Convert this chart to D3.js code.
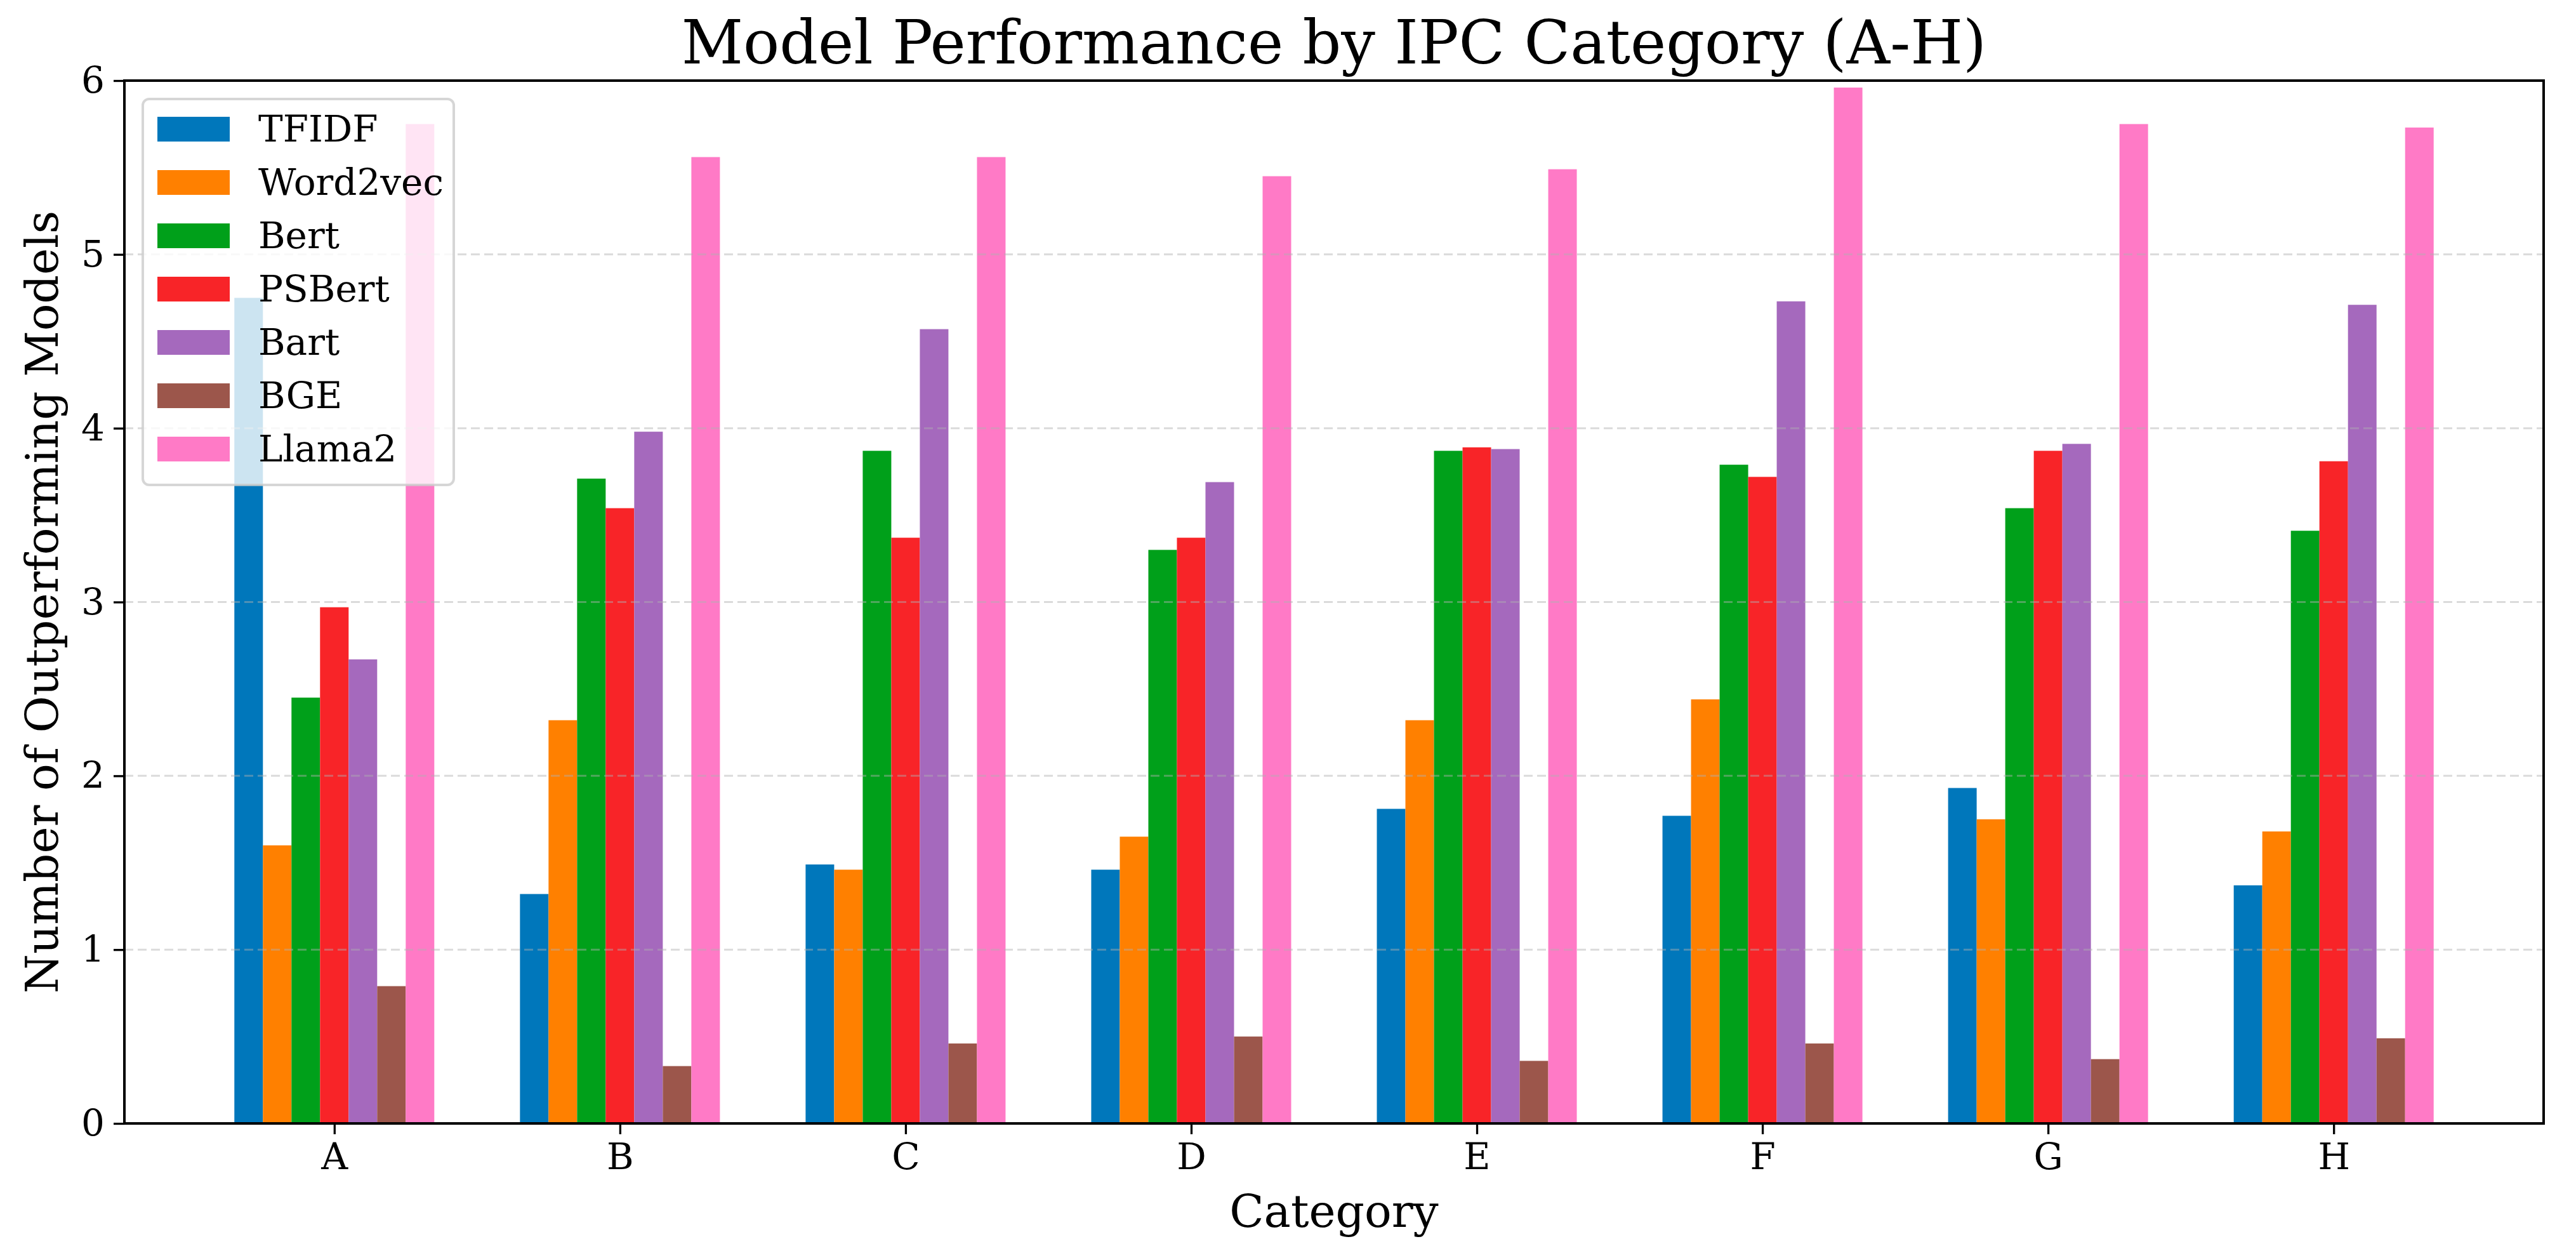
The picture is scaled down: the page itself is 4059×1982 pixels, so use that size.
<!DOCTYPE html>
<html>
<head>
<meta charset="utf-8">
<script src="https://cdn.jsdelivr.net/npm/d3@7"></script>
<style>
    html, body { margin: 0; padding: 0; background: #fff; }
    svg text { font-family: 'DejaVu Serif', serif; fill: #000; }
</style>
</head>
<body>
<div id="chart"></div>
<script>
// categories and series
const categories = ['A', 'B', 'C', 'D', 'E', 'F', 'G', 'H'];
const models = ['TFIDF', 'Word2vec', 'Bert', 'PSBert', 'Bart', 'BGE', 'Llama2'];
const colors = ['#0077bb', '#ff8000', '#00a01a', '#f82428', '#a569bd', '#9c564b', '#ff7ac6'];

const tfidf    = [4.75, 1.32, 1.49, 1.46, 1.81, 1.77, 1.93, 1.37];
const word2vec = [1.60, 2.32, 1.46, 1.65, 2.32, 2.44, 1.75, 1.68];
const bert     = [2.45, 3.71, 3.87, 3.30, 3.87, 3.79, 3.54, 3.41];
const psbert   = [2.97, 3.54, 3.37, 3.37, 3.89, 3.72, 3.87, 3.81];
const bart     = [2.67, 3.98, 4.57, 3.69, 3.88, 4.73, 3.91, 4.71];
const bge      = [0.79, 0.33, 0.46, 0.50, 0.36, 0.46, 0.37, 0.49];
const llama2   = [5.75, 5.56, 5.56, 5.45, 5.49, 5.96, 5.75, 5.73];

const yTicks = [0, 1, 2, 3, 4, 5, 6];

const series = [tfidf, word2vec, bert, psbert, bart, bge, llama2];

const width = 4059, height = 1982;
const margin = {left: 196, right: 4008, top: 127, bottom: 1770};
const barW = 0.1;

let svg = d3.select('#chart').append('svg')
    .attr('width', width)
    .attr('height', height);

// matplotlib style x limits: group span plus 5% margin each side
let lo = -3.5 * barW, hi = categories.length - 1 + 3.5 * barW;
let pad = (hi - lo) * 0.05;
let x = d3.scaleLinear().domain([lo - pad, hi + pad]).range([margin.left, margin.right]);
let y = d3.scaleLinear().domain([0, 6]).range([margin.bottom, margin.top]);

// bars
let bars = [];
series.forEach(function (vals, si) {
    vals.forEach(function (v, ci) {
        bars.push({s: si, c: ci, v: v});
    });
});

svg.append('g').selectAll('rect')
    .data(bars)
    .enter().append('rect')
    .attr('x', d => x(d.c + (d.s - 3) * barW - barW / 2))
    .attr('width', d => x(barW) - x(0))
    .attr('y', d => y(d.v))
    .attr('height', d => y(0) - y(d.v))
    .attr('fill', d => colors[d.s]);

// dashed grid on top of bars
svg.append('g').selectAll('line')
    .data(yTicks.filter(t => t > 0 && t < 6))
    .enter().append('line')
    .attr('x1', margin.left).attr('x2', margin.right)
    .attr('y1', d => y(d)).attr('y2', d => y(d))
    .attr('stroke', '#b0b0b0')
    .attr('stroke-opacity', 0.45)
    .attr('stroke-width', 3)
    .attr('stroke-dasharray', '14,7');

// axes
let xAxis = d3.axisBottom(x)
    .tickValues(d3.range(categories.length))
    .tickFormat(i => categories[i])
    .tickSize(17).tickPadding(14).tickSizeOuter(0);
let yAxis = d3.axisLeft(y)
    .tickValues(yTicks)
    .tickFormat(d3.format('d'))
    .tickSize(17).tickPadding(14).tickSizeOuter(0);

let gx = svg.append('g').attr('transform', 'translate(0,' + margin.bottom + ')').call(xAxis);
let gy = svg.append('g').attr('transform', 'translate(' + margin.left + ',0)').call(yAxis);
[gx, gy].forEach(function (g) {
    g.select('.domain').remove();
    g.selectAll('.tick line').attr('stroke', '#000').attr('stroke-width', 3.3);
    g.selectAll('.tick text')
        .style('font-family', "'DejaVu Serif', serif")
        .style('font-size', '58px')
        .attr('fill', '#000');
});

// frame
svg.append('rect')
    .attr('x', margin.left).attr('y', margin.top)
    .attr('width', margin.right - margin.left)
    .attr('height', margin.bottom - margin.top)
    .attr('fill', 'none')
    .attr('stroke', '#000')
    .attr('stroke-width', 4);

// title and labels
svg.append('text')
    .attr('x', (margin.left + margin.right) / 2)
    .attr('y', 100)
    .attr('text-anchor', 'middle')
    .style('font-size', '95px')
    .text('Model Performance by IPC Category (A-H)');

svg.append('text')
    .attr('x', (margin.left + margin.right) / 2)
    .attr('y', 1933)
    .attr('text-anchor', 'middle')
    .style('font-size', '71px')
    .text('Category');

svg.append('text')
    .attr('transform', 'translate(91,' + (margin.top + margin.bottom) / 2 + ') rotate(-90)')
    .attr('text-anchor', 'middle')
    .style('font-size', '71px')
    .text('Number of Outperforming Models');

// legend
let legend = svg.append('g');
legend.append('rect')
    .attr('x', 225).attr('y', 156)
    .attr('width', 490).attr('height', 608)
    .attr('rx', 10)
    .attr('fill', '#fff').attr('fill-opacity', 0.8)
    .attr('stroke', '#cccccc').attr('stroke-opacity', 0.8)
    .attr('stroke-width', 4);

let items = legend.selectAll('.item')
    .data(models)
    .enter().append('g')
    .attr('transform', (d, i) => 'translate(0,' + (i * 84) + ')');
items.append('rect')
    .attr('x', 248).attr('y', 184)
    .attr('width', 114).attr('height', 39)
    .attr('fill', (d, i) => colors[i]);
items.append('text')
    .attr('x', 407).attr('y', 223)
    .style('font-size', '58px')
    .text(d => d);
</script>
</body>
</html>
